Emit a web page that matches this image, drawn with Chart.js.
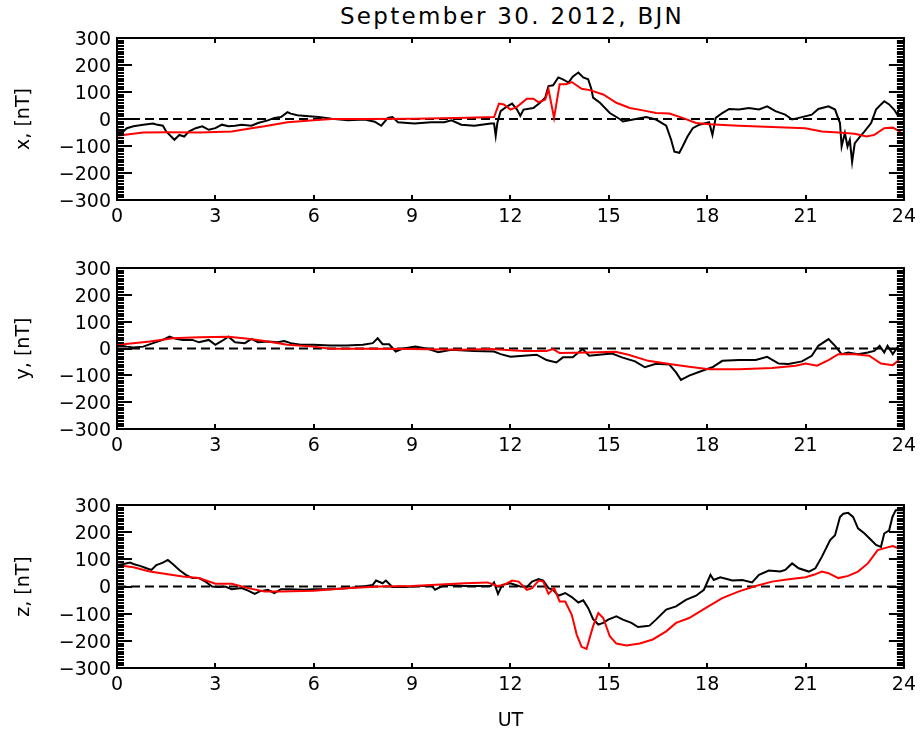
<!DOCTYPE html>
<html>
<head>
<meta charset="utf-8">
<script src="https://cdn.jsdelivr.net/npm/chart.js@4.4.0/dist/chart.umd.min.js"></script>
<style>
  body { margin: 0; background: #fff; width: 922px; height: 733px; position: relative; overflow: hidden; }
  canvas { position: absolute; left: 0; top: 0; }
  #title { position: absolute; left: 0; width: 1024px; top: 3px; text-align: center;
           font: 23px "DejaVu Sans", sans-serif; letter-spacing: 2.3px; color: #000; }
</style>
</head>
<body>
<div id="title">September 30. 2012, BJN</div>
<canvas id="cx" width="922" height="733"></canvas>
<canvas id="cy" width="922" height="733"></canvas>
<canvas id="cz" width="922" height="733"></canvas>
<script>
// x component, observed (black)
const hoursXObs = [0, 0.1, 0.2, 0.3, 0.5, 0.8, 1.1, 1.2, 1.4, 1.5,
  1.75, 1.9, 2.05, 2.2, 2.4, 2.6, 2.8, 3.0, 3.2, 3.4,
  3.6, 3.8, 4.1, 4.3, 4.6, 4.8, 5.0, 5.2, 5.3, 5.5,
  5.85, 6.15, 6.55, 7.05, 7.55, 7.86, 8.06, 8.26, 8.4, 8.57,
  9.07, 9.58, 9.98, 10.2, 10.5, 10.9, 11.4, 11.5, 11.55, 11.6,
  11.7, 11.9, 12.05, 12.2, 12.3, 12.4, 12.7, 12.9, 13.06, 13.16,
  13.3, 13.46, 13.6, 13.77, 13.9, 14.07, 14.22, 14.37, 14.47, 14.52,
  14.73, 15.03, 15.33, 15.43, 15.74, 16.14, 16.44, 16.75, 16.9, 17.0,
  17.15, 17.25, 17.4, 17.56, 17.76, 18.06, 18.16, 18.26, 18.46, 18.67,
  18.97, 19.27, 19.58, 19.83, 20.08, 20.38, 20.59, 20.89, 21.19, 21.39,
  21.7, 21.9, 22.05, 22.1, 22.2, 22.28, 22.35, 22.42, 22.5, 22.66,
  22.8, 23.0, 23.15, 23.3, 23.4, 23.55, 23.7, 23.8, 23.9, 24.0];
const xObs = [-35, -50, -45, -34, -27, -21, -17, -20, -25, -46,
  -77, -59, -65, -46, -34, -27, -40, -34, -21, -27,
  -25, -21, -25, -15, -5, 4, 7, 25, 20, 14,
  10, 7, 1, -5, -2, -10, -25, 4, 7, -12,
  -17, -12, -12, -5, -21, -25, -17, -17, -62, -15,
  29, 47, 57, 35, 12, 35, 41, 60, 79, 122,
  125, 154, 147, 135, 157, 172, 154, 147, 110, 79,
  60, 22, 0, -9, -2, 7, -2, -25, -77, -121,
  -125, -102, -65, -34, -21, -12, -59, 4, 22, 37,
  35, 41, 35, 47, 29, 16, -2, 7, 16, 37,
  47, 35, -15, -102, -52, -102, -77, -159, -90, -65,
  -46, -15, 35, 54, 66, 54, 35, 16, 57, 50];

// x component, model (red)
const hoursXMod = [0, 0.8, 1.5, 2.5, 3.5, 4.1, 4.5, 5.2, 6.0, 6.55,
  7.55, 9.07, 10.7, 11.5, 11.65, 11.8, 12.0, 12.2, 12.5, 12.7,
  12.86, 13.06, 13.16, 13.33, 13.5, 13.7, 13.87, 14.17, 14.42, 14.83,
  15.23, 15.64, 16.04, 16.44, 16.85, 17.25, 17.66, 18.06, 18.97, 19.98,
  20.99, 21.5, 22.0, 22.5, 22.86, 23.1, 23.4, 23.66, 23.87, 23.93];
const xMod = [-62, -50, -49, -50, -46, -34, -27, -12, -5, 0,
  0, 1, 5, 7, 57, 54, 35, 45, 75, 75,
  62, 72, 110, 4, 129, 129, 137, 112, 107, 91,
  60, 41, 32, 22, 20, 4, -15, -19, -25, -30,
  -34, -46, -50, -55, -65, -59, -34, -32, -46, -56];

// y component, observed (black)
const hoursYObs = [0, 0.3, 0.5, 0.8, 1.1, 1.4, 1.6, 1.8, 2.0, 2.3,
  2.5, 2.8, 3.0, 3.2, 3.4, 3.6, 3.9, 4.1, 4.3, 4.6,
  4.9, 5.1, 5.3, 5.6, 6.0, 6.5, 7.0, 7.5, 7.8, 7.95,
  8.1, 8.3, 8.5, 8.7, 9.1, 9.5, 9.8, 10.2, 10.6, 10.9,
  11.5, 11.7, 12.0, 12.4, 12.8, 13.1, 13.4, 13.6, 13.9, 14.2,
  14.4, 14.7, 15.1, 15.4, 15.8, 16.1, 16.44, 16.85, 17.05, 17.2,
  17.45, 17.85, 18.16, 18.46, 18.97, 19.48, 19.83, 20.18, 20.48, 20.89,
  21.19, 21.39, 21.7, 21.9, 22.1, 22.3, 22.6, 22.9, 23.1, 23.26,
  23.4, 23.5, 23.66, 23.8, 24.0];
const yObs = [14, 7, 4, 7, 20, 32, 44, 36, 32, 32,
  23, 32, 14, 28, 44, 23, 20, 36, 23, 26,
  23, 28, 20, 14, 14, 11, 11, 14, 20, 38,
  16, 16, -11, -1, 7, -2, -14, -5, -7, -9,
  -11, -21, -31, -27, -23, -43, -52, -33, -33, -2,
  -27, -23, -19, -33, -48, -70, -57, -60, -89, -117,
  -101, -83, -70, -46, -43, -43, -31, -56, -58, -48,
  -27, 10, 35, 10, -21, -15, -21, -15, -9, 10,
  -15, 10, -21, 4, 22];

// y component, model (red)
const hoursYMod = [0, 0.5, 1.0, 1.7, 2.5, 3.4, 4.0, 4.5, 5.2, 6.0,
  6.5, 7.5, 9.0, 10.5, 11.4, 12.4, 13.1, 13.3, 13.5, 14.4,
  15.2, 15.6, 16.2, 16.85, 17.45, 18.06, 18.97, 19.98, 20.7, 21.0,
  21.35, 21.7, 22.0, 22.5, 22.94, 23.3, 23.66, 23.85];
const yMod = [14, 20, 26, 38, 42, 44, 36, 28, 14, 7,
  -1, -1, -2, -5, -2, -9, -9, -2, -17, -15,
  -12, -23, -46, -58, -68, -77, -77, -73, -64, -56,
  -64, -43, -21, -21, -27, -56, -62, -43];

// z component, observed (black)
const hoursZObs = [0, 0.2, 0.4, 0.5, 0.7, 0.9, 1.05, 1.2, 1.4, 1.55,
  1.7, 1.9, 2.1, 2.3, 2.5, 2.7, 2.9, 3.1, 3.3, 3.5,
  3.8, 4.0, 4.2, 4.35, 4.6, 4.8, 5.0, 5.3, 5.7, 6.0,
  6.5, 7.0, 7.5, 7.8, 7.9, 8.1, 8.2, 8.4, 8.8, 9.2,
  9.6, 9.7, 10.0, 10.6, 11.4, 11.5, 11.62, 11.75, 12.0, 12.3,
  12.5, 12.66, 12.86, 13.0, 13.16, 13.3, 13.46, 13.67, 13.87, 14.07,
  14.22, 14.37, 14.52, 14.68, 14.83, 14.98, 15.23, 15.43, 15.69, 15.89,
  16.1, 16.24, 16.44, 16.75, 17.05, 17.35, 17.66, 17.9, 18.1, 18.2,
  18.4, 18.77, 19.07, 19.37, 19.58, 19.88, 20.23, 20.38, 20.59, 20.79,
  21.1, 21.3, 21.5, 21.75, 21.9, 22.05, 22.15, 22.3, 22.45, 22.6,
  22.8, 23.0, 23.15, 23.3, 23.4, 23.55, 23.65, 23.75, 24.0];
const zObs = [79, 83, 88, 83, 76, 67, 61, 79, 88, 98,
  83, 61, 43, 31, 31, 18, 0, -2, 0, -10,
  -6, -15, -27, -18, -12, -24, -10, -10, -12, -10,
  -10, -6, 0, 6, 22, 12, 22, -2, -2, 2,
  2, -12, 6, 2, 2, 15, -27, 6, 12, 0,
  -2, 18, 27, 22, -6, -12, -34, -24, -39, -59,
  -51, -79, -120, -140, -134, -122, -110, -122, -134, -149,
  -146, -144, -122, -85, -73, -49, -34, -12, 43, 24,
  34, 22, 24, 15, 43, 59, 55, 61, 85, 67,
  55, 67, 110, 171, 189, 256, 268, 271, 256, 214,
  195, 171, 153, 146, 195, 207, 256, 281, 281];

// z component, model (red)
const hoursZMod = [0, 0.5, 1.0, 2.0, 2.5, 3.0, 3.5, 4.0, 4.5, 5.0,
  6.0, 7.0, 8.0, 9.0, 10.6, 11.3, 11.6, 11.8, 12.05, 12.25,
  12.5, 12.66, 12.86, 13.0, 13.16, 13.33, 13.5, 13.67, 13.87, 14.02,
  14.17, 14.32, 14.52, 14.68, 14.83, 15.03, 15.23, 15.54, 15.94, 16.34,
  16.75, 17.05, 17.45, 17.96, 18.46, 18.97, 19.48, 19.98, 20.49, 21.0,
  21.25, 21.5, 21.7, 22.0, 22.3, 22.6, 22.9, 23.2, 23.5, 23.66, 23.85];
const zMod = [79, 71, 55, 37, 31, 10, 10, -6, -18, -18,
  -16, -6, 0, 2, 12, 15, 2, 6, 22, 18,
  -12, -6, 22, 18, -27, -6, -55, -55, -104, -177,
  -222, -230, -146, -98, -116, -183, -210, -217, -210, -195,
  -165, -134, -116, -79, -43, -18, 2, 18, 27, 34,
  43, 55, 49, 31, 39, 55, 85, 134, 144, 149, 140];

// axis ticks
const utTicks = [0, 3, 6, 9, 12, 15, 18, 21, 24];
const nTTicks = [-300, -200, -100, 0, 100, 200, 300];

const pts = (h, v) => h.map((t, i) => ({ x: t, y: v[i] }));
const FONT = '"DejaVu Sans", sans-serif';

// frame + inward tick marks like the IDL plot
const frame = {
  id: 'frame',
  afterDraw(chart) {
    const { ctx, chartArea: a, scales: { x, y } } = chart;
    ctx.save();
    ctx.strokeStyle = '#000';
    ctx.lineWidth = 2;
    ctx.strokeRect(a.left, a.top, a.right - a.left, a.bottom - a.top);
    ctx.beginPath();
    for (let v = y.min; v <= y.max; v += 10) {
      const py = Math.round(y.getPixelForValue(v));
      const len = v % 100 === 0 ? 15 : 7;
      ctx.moveTo(a.left, py); ctx.lineTo(a.left + len, py);
      ctx.moveTo(a.right, py); ctx.lineTo(a.right - len, py);
    }
    x.ticks.forEach(t => {
      const px = Math.round(x.getPixelForValue(t.value));
      ctx.moveTo(px, a.bottom); ctx.lineTo(px, a.bottom - 5);
      ctx.moveTo(px, a.top); ctx.lineTo(px, a.top + 5);
    });
    ctx.stroke();
    ctx.restore();
  }
};

function panel(id, label, obsH, obs, modH, mod, top, bottom, xh, showUT) {
  new Chart(document.getElementById(id), {
    type: 'line',
    data: {
      datasets: [
        { data: pts(modH, mod), borderColor: '#ff0000', borderWidth: 2, order: 0 },
        { data: pts(obsH, obs), borderColor: '#000', borderWidth: 2, order: 1 },
        { data: pts([0, 24], [0, 0]), borderColor: '#000', borderWidth: 2, borderDash: [9, 5], order: 2 }
      ]
    },
    options: {
      responsive: false,
      animation: false,
      events: [],
      layout: { padding: { left: 9, right: 13, top: top, bottom: 733 - bottom - xh } },
      elements: { point: { radius: 0 }, line: { tension: 0 } },
      plugins: { legend: { display: false }, tooltip: { enabled: false } },
      scales: {
        x: {
          type: 'linear', min: 0, max: 24,
          afterBuildTicks: s => { s.ticks = utTicks.map(v => ({ value: v })); },
          afterFit: s => { s.height = xh; },
          grid: { display: false, drawTicks: false },
          border: { display: false },
          ticks: { color: '#000', font: { family: FONT, size: 19 }, padding: 6, maxRotation: 0 },
          title: { display: showUT, text: 'UT', color: '#000', font: { family: FONT, size: 19 }, padding: 0 }
        },
        y: {
          type: 'linear', min: -300, max: 300,
          afterBuildTicks: s => { s.ticks = nTTicks.map(v => ({ value: v })); },
          afterFit: s => { s.width = 108; },
          grid: { display: false, drawTicks: false },
          border: { display: false },
          ticks: {
            color: '#000', font: { family: FONT, size: 19 }, padding: 6, labelOffset: 2,
            callback: v => (v < 0 ? '\u2212' + Math.abs(v) : String(v))
          },
          title: { display: true, text: label, color: '#000', font: { family: FONT, size: 19 }, padding: { top: 4 } }
        }
      }
    },
    plugins: [frame]
  });
}

panel('cx', 'x, [nT]', hoursXObs, xObs, hoursXMod, xMod, 38, 200, 40, false);
panel('cy', 'y, [nT]', hoursYObs, yObs, hoursYMod, yMod, 268, 429, 40, false);
panel('cz', 'z, [nT]', hoursZObs, zObs, hoursZMod, zMod, 505, 668, 64, true);
</script>
</body>
</html>
